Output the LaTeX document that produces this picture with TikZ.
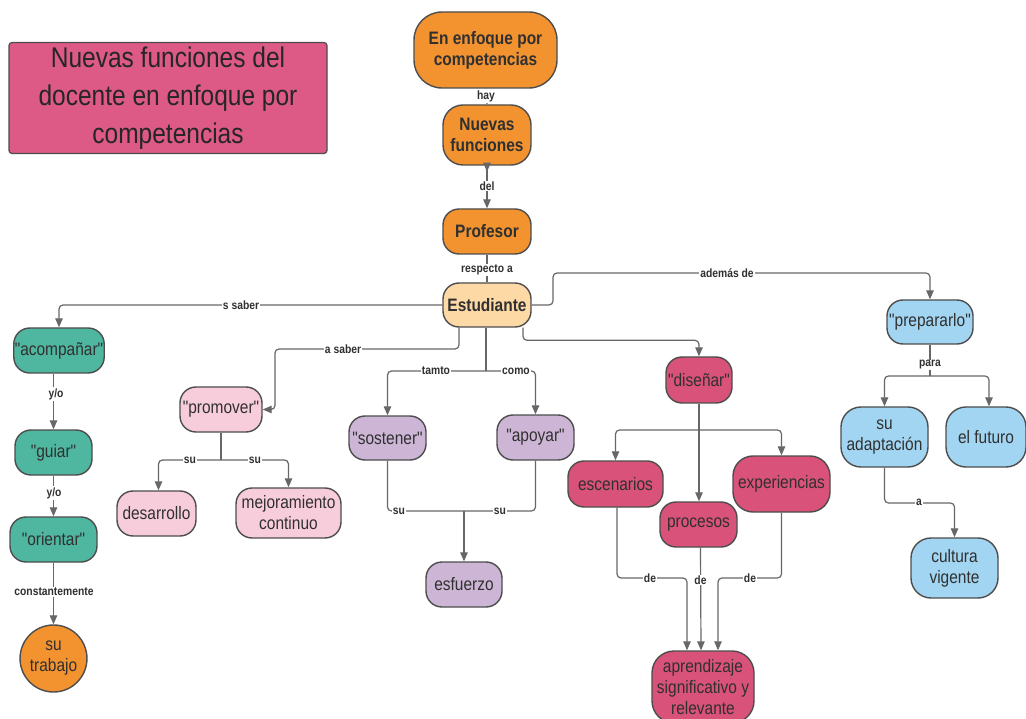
\documentclass[tikz,border=0pt]{standalone}
\usepackage{fontspec}
\setmainfont{Liberation Sans}[FakeStretch=0.86]
\newfontfamily\plainf{Liberation Sans}[FakeStretch=0.86, Ligatures=ResetAll]
\usetikzlibrary{arrows.meta,shapes.geometric,decorations.markings,calc}
\definecolor{orng}{HTML}{F29330}
\definecolor{peach}{HTML}{FDD9A6}
\definecolor{cteal}{HTML}{4FB6A0}
\definecolor{lpink}{HTML}{F8CDDB}
\definecolor{lilac}{HTML}{CDB5D6}
\definecolor{dpink}{HTML}{D8527A}
\definecolor{tpink}{HTML}{DC5A85}
\definecolor{lblue}{HTML}{A2D5F2}
\definecolor{bord}{HTML}{4D4D4D}
\definecolor{lin}{HTML}{676767}
\definecolor{txt}{HTML}{303030}
\begin{document}
\begin{tikzpicture}[x=1pt,y=-1pt,
  box/.style={draw=bord, line width=1.4pt, rounded corners=16pt, inner sep=1pt,
    align=center, text=txt, font=\plainf\fontsize{18}{21}\selectfont},
  bbox/.style={box, font=\fontsize{18}{21}\selectfont\bfseries},
  lbl/.style={fill=white, inner sep=1pt, font=\fontsize{12}{13}\selectfont\bfseries, text=txt},
  conn/.style={draw=lin, line width=1.2pt, rounded corners=4pt},
  arr/.style={conn, -{Triangle[length=9pt,width=7.5pt]}},
]
\useasboundingbox[fill=white] (0,0) rectangle (1026,719);

% title
\node[draw=bord, line width=1.2pt, fill=tpink, rounded corners=3pt, minimum width=318pt,
  minimum height=111pt, align=center, text=black!85,
  font=\fontsize{28.5}{38}\selectfont] (title) at (168,98)
  {Nuevas funciones del\\docente en enfoque por\\competencias};

% central column
\node[bbox, fill=orng, rounded corners=28pt, minimum width=143pt, minimum height=76pt] (enfo) at (485.5,50) {En enfoque por\\competencias};
\node[bbox, fill=orng, rounded corners=20pt, minimum width=88pt, minimum height=60pt] (nuev) at (487,135) {Nuevas\\funciones};
\node[bbox, fill=orng, minimum width=88pt, minimum height=45pt] (prof) at (487,231.5) {Profesor};
\node[bbox, fill=peach, minimum width=88pt, minimum height=44pt] (estu) at (487,305) {Estudiante};

% left column
\node[box, fill=cteal, minimum width=90pt, minimum height=45pt] (acom) at (59,350.5) {"acompañar"};
\node[box, fill=cteal, minimum width=77pt, minimum height=45pt] (guia) at (53.5,452.5) {"guiar"};
\node[box, fill=cteal, minimum width=87pt, minimum height=45pt] (orie) at (53.5,539.5) {"orientar"};
\node[draw=bord, line width=1.4pt, fill=orng, ellipse, minimum width=61pt, minimum height=67pt,
  inner sep=0pt, align=center, text=txt, font=\plainf\fontsize{18}{21}\selectfont] (trab) at (53.5,658.5) {su\\trabajo};

% promover
\node[box, fill=lpink, minimum width=82pt, minimum height=45pt] (prom) at (221,409.5) {"promover"};
\node[box, fill=lpink, minimum width=79pt, minimum height=45pt] (desa) at (156.5,513.5) {desarrollo};
\node[box, fill=lpink, minimum width=105pt, minimum height=50pt] (mejo) at (288.5,513) {mejoramiento\\continuo};

% sostener / apoyar
\node[box, fill=lilac, minimum width=77pt, minimum height=44pt] (sost) at (387.5,438) {"sostener"};
\node[box, fill=lilac, minimum width=77pt, minimum height=45pt] (apoy) at (535.5,437.5) {"apoyar"};
\node[box, fill=lilac, minimum width=76pt, minimum height=45pt] (esfu) at (464,584.5) {esfuerzo};

% disenar
\node[box, fill=dpink, minimum width=66pt, minimum height=46pt] (dise) at (699,380) {"diseñar"};
\node[box, fill=dpink, minimum width=95pt, minimum height=46pt] (esce) at (615.5,484) {escenarios};
\node[box, fill=dpink, minimum width=77pt, minimum height=45pt] (proc) at (698.5,524.5) {procesos};
\node[box, fill=dpink, rounded corners=20pt, minimum width=97pt, minimum height=56pt] (expe) at (781.5,484) {experiencias};
\node[box, fill=dpink, rounded corners=22pt, minimum width=102pt, minimum height=72pt] (apre) at (703,687) {aprendizaje\\significativo y\\relevante};

% preparar
\node[box, fill=lblue, minimum width=86pt, minimum height=44pt] (prep) at (930,322) {"prepararlo"};
\node[box, fill=lblue, rounded corners=20pt, minimum width=87pt, minimum height=60pt] (adap) at (884.5,437) {su\\adaptación};
\node[box, fill=lblue, rounded corners=20pt, minimum width=80pt, minimum height=60pt] (futu) at (986,437) {el futuro};
\node[box, fill=lblue, rounded corners=20pt, minimum width=87pt, minimum height=60pt] (cult) at (954.5,568) {cultura\\vigente};

% junction coordinates
\coordinate (b5) at (275,349);
\coordinate (j6) at (486,371);
\coordinate (b8) at (553,273);
\coordinate (j12) at (221,460);
\coordinate (j13) at (464,511);
\coordinate (j14) at (699,430);
\coordinate (c15a) at (687,578);
\coordinate (c15c) at (718,578);
\coordinate (j16) at (930,376);
\coordinate (j17) at (954.5,503);

% connectors
\draw[conn] (enfo.south) -- (nuev.north);
\draw[arr, postaction={decorate}, decoration={markings,
  mark=at position 6pt with {\arrow{Triangle[length=9pt,width=7.5pt]}}}] (nuev.south) -- (prof.north);
\draw[conn] (prof.south) -- (estu.north);
\draw[arr] (estu.west) -| (acom.north);
\draw[arr] ([xshift=-28pt]estu.south) |- (b5) |- (prom.east);
\draw[conn] (estu.south -| j6) -- (j6);
\draw[arr] (j6) -| (sost.north);
\draw[arr] (j6) -| (apoy.north);
\draw[arr] ([xshift=36pt]estu.south) |- ($(dise.north)+(0,-16)$) -- (dise.north);
\draw[arr] (estu.east) -| (b8) -| (prep.north);

\draw[arr] (acom.south -| guia.north) -- (guia.north);
\draw[arr] (guia.south) -- (orie.north);
\draw[arr] (orie.south) -- (trab.north);

\draw[conn] (prom.south) -- (j12);
\draw[arr] (j12) -| ([xshift=2pt]desa.north);
\draw[arr] (j12) -| (mejo.north);

\draw[conn] (sost.south) |- (j13);
\draw[conn] (apoy.south) |- (j13);
\draw[arr] (j13) -- (esfu.north);

\draw[conn] (dise.south) -- (j14);
\draw[arr] (j14) -| (esce.north);
\draw[arr] (j14) -| (expe.north);
\draw[arr] (j14) -- (proc.north -| j14);

\draw[arr] ([xshift=1.5pt]esce.south) |- (c15a) -- (apre.north -| c15a);
\draw[arr] ([xshift=2pt]proc.south) -- ([xshift=-2pt]apre.north);
\draw[arr] (expe.south) |- (c15c) -- (apre.north -| c15c);

\draw[conn] (prep.south) -- (j16);
\draw[arr] (j16) -| (adap.north);
\draw[arr] (j16) -| ([xshift=3pt]futu.north);
\draw[arr] (adap.south) |- (j17) -- (cult.north);

% labels
\node[lbl] (Lhay) at (486,96) {hay};
\node[lbl] (Ldel) at (487,186) {del};
\node[lbl] (Lresp) at (487,270) {respecto a};
\node[lbl] (Lssab) at (241,305) {s saber};
\node[lbl] (Lasab) at (343,349) {a saber};
\node[lbl] (Ltamto) at (436,371) {tamto};
\node[lbl] (Lcomo) at (516,371) {como};
\node[lbl] (Ladem) at (727,273) {además de};
\node[lbl] (Lyo1) at (56,394) {y/o};
\node[lbl] (Lyo2) at (54,493) {y/o};
\node[lbl] (Lcons) at (54,592) {constantemente};
\node[lbl] (Lsu1) at (190,460) {su};
\node[lbl] (Lsu2) at (255,460) {su};
\node[lbl] (Lsu3) at (399,511) {su};
\node[lbl] (Lsu4) at (500,511) {su};
\node[lbl] (Lde1) at (650,578) {de};
\node[lbl] (Lde2) at (700.5,580) {de};
\node[lbl] (Lde3) at (750,578) {de};
\node[lbl] (Lpara) at (930,365) {para};
\node[lbl] (La) at (919,502) {a};
\end{tikzpicture}
\end{document}
